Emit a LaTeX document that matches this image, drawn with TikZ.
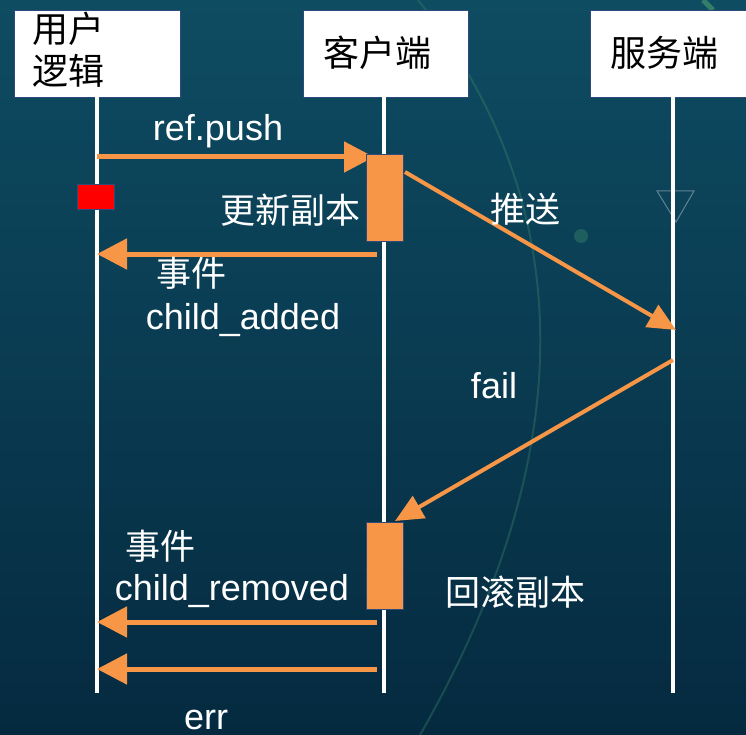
\documentclass[tikz,border=0pt]{standalone}
\usepackage{fontspec}
\setmainfont{Liberation Sans}
\newfontfamily\cjk{Noto Sans CJK SC}
\usetikzlibrary{arrows.meta}
\definecolor{bgtop}{HTML}{0E4C62}
\definecolor{bgmid}{HTML}{0A405A}
\definecolor{bgbot}{HTML}{052A40}
\definecolor{org}{HTML}{F79646}
\definecolor{edge}{HTML}{2E4A7A}
\definecolor{deco}{HTML}{3E8A6A}
\tikzset{
  head/.style={draw=edge,line width=1pt,fill=white,inner sep=0pt},
  life/.style={draw=white,line width=4pt},
  act/.style={draw=edge,line width=1pt,fill=org},
  msg/.style={draw=org,line width=5pt,-{Triangle[length=30pt,width=30pt]}},
  dmsg/.style={draw=org,line width=4pt,-{Triangle[length=28pt,width=25pt]}},
  wt/.style={text=white,font=\fontsize{36}{40}\selectfont,inner sep=0pt},
  wc/.style={text=white,font=\fontsize{35}{40}\selectfont\cjk,inner sep=0pt},
  bc/.style={text=black,font=\fontsize{36}{42}\selectfont\cjk,inner sep=0pt,align=left},
}
\begin{document}
\begin{tikzpicture}[x=1pt,y=-1pt]
\useasboundingbox (0,0) rectangle (746,735);
\shade[top color=bgtop,middle color=bgmid,bottom color=bgbot] (0,0) rectangle (746,735);
% background decorations
\draw[deco,opacity=0.35,line width=2pt] (418,0) .. controls (560,180) and (600,420) .. (420,735);
\draw[deco,opacity=0.8,line width=5pt] (703,0) -- (713,10);
\draw[white,opacity=0.35,line width=1pt] (657,191) -- (694,191) -- (676,222) -- cycle;
\fill[deco,opacity=0.4] (581,236) circle (7);
% lifeline heads
\node[head,minimum width=166pt,minimum height=87pt,anchor=north west] (hu) at (14,10) {};
\node[head,minimum width=165pt,minimum height=87pt,anchor=north west] (hc) at (303,10) {};
\node[head,minimum width=170pt,minimum height=87pt,anchor=north west] (hs) at (590,10) {};
\node[bc,anchor=north west] (tu) at (32,12) {用户\\逻辑};
\node[bc] (tc) at (377,53) {客户端};
\node[bc] (ts) at (664,53) {服务端};
% lifelines
\coordinate (u0) at (97,97);  \coordinate (u1) at (97,693);
\coordinate (c0) at (384,97); \coordinate (c1) at (384,693);
\coordinate (s0) at (673,97); \coordinate (s1) at (673,693);
\draw[life] (u0) -- (u1);
\draw[life] (c0) -- (c1);
\draw[life] (s0) -- (s1);
% coordinates for messages
\coordinate (m1s) at (97,157);
\coordinate (m1e) at (374,157);
\coordinate (m2s) at (377,254);
\coordinate (m2e) at (97,254);
\coordinate (d1s) at (405,172);
\coordinate (d1e) at (676,330);
\coordinate (d2s) at (673,360);
\coordinate (d2e) at (395,521);
\coordinate (m3s) at (377,622);
\coordinate (m3e) at (97,622);
\coordinate (m4s) at (377,669);
\coordinate (m4e) at (97,669);
\draw[msg] (m1s) -- (m1e);
% activation boxes
\node[act,minimum width=37pt,minimum height=87pt,anchor=north west,inner sep=0pt] (a1) at (366,154) {};
\node[act,minimum width=37pt,minimum height=87pt,anchor=north west,inner sep=0pt] (a2) at (366,522) {};
\node[draw=edge,line width=1pt,fill=red,minimum width=37pt,minimum height=25pt,inner sep=0pt] (red) at (96,197) {};
\draw[msg] (m2s) -- (m2e);
\draw[dmsg] (d1s) -- (d1e);
\draw[dmsg] (d2s) -- (d2e);
\draw[msg] (m3s) -- (m3e);
\draw[msg] (m4s) -- (m4e);
% labels
\node[wt] (lpush) at (218,131) {ref.push};
\node[wc] (lupd) at (290,210) {更新副本};
\node[wc] (lev1) at (191,273) {事件};
\node[wt] (ladd) at (243,320) {child\_added};
\node[wc] (lpush2) at (525,209) {推送};
\node[wt] (lfail) at (494,386) {fail};
\node[wc] (lev2) at (160,546) {事件};
\node[wt] (lrem) at (232,591) {child\_removed};
\node[wc] (lroll) at (515,592) {回滚副本};
\node[wt,anchor=base] (lerr) at (206,729) {err};
\end{tikzpicture}
\end{document}
